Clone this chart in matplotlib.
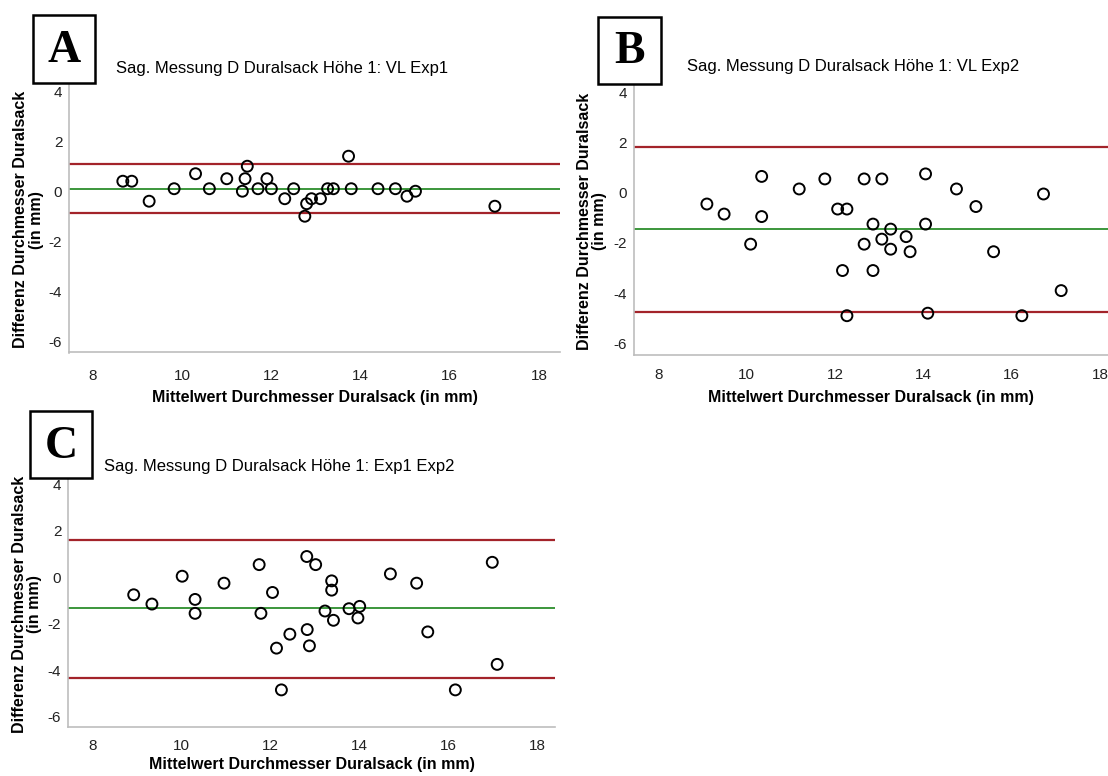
"""
Bland-Altman Plots: Sag. Messung D Duralsack Höhe 1 (VL / Exp1 / Exp2)
"""

import matplotlib
matplotlib.use('Agg')
import matplotlib.pyplot as plt
from matplotlib.patches import Rectangle

plt.rcParams['font.family'] = ['Liberation Sans', 'DejaVu Sans']
plt.rcParams['axes.unicode_minus'] = False

# ---- Daten (Mittelwert, Differenz) ----
a_mean = [8.67, 8.87, 9.26, 9.82, 10.30, 10.61, 11.00, 11.35, 11.41, 11.46,
          11.70, 11.90, 12.00, 12.30, 12.50, 12.75, 12.79, 12.90, 13.10, 13.26,
          13.39, 13.73, 13.79, 14.39, 14.78, 15.04, 15.23, 17.01]
a_diff = [0.40, 0.40, -0.40, 0.10, 0.70, 0.10, 0.50, 0.00, 0.50, 1.00,
          0.10, 0.50, 0.10, -0.30, 0.10, -1.00, -0.50, -0.30, -0.30, 0.10,
          0.10, 1.40, 0.10, 0.10, 0.10, -0.20, 0.00, -0.60]
a_bias, a_upper, a_lower = 0.10, 1.07, -0.88

b_mean = [9.10, 9.49, 10.09, 10.34, 10.34, 11.19, 11.77, 12.06, 12.27, 12.17,
          12.27, 12.66, 12.66, 12.86, 12.86, 13.06, 13.06, 13.26, 13.26, 13.61,
          13.70, 14.05, 14.05, 14.10, 14.75, 15.19, 15.59, 16.23, 16.72, 17.12]
b_diff = [-0.45, -0.85, -2.05, 0.65, -0.95, 0.15, 0.55, -0.65, -0.65, -3.10,
          -4.90, 0.55, -2.05, -1.25, -3.10, 0.55, -1.85, -1.45, -2.25, -1.75,
          -2.35, 0.75, -1.25, -4.80, 0.15, -0.55, -2.35, -4.90, -0.05, -3.90]
b_bias, b_upper, b_lower = -1.46, 1.83, -4.74

c_mean = [8.92, 9.33, 10.01, 10.30, 10.30, 10.95, 11.74, 11.78, 12.04, 12.13,
          12.24, 12.43, 12.81, 12.82, 12.87, 13.01, 13.22, 13.37, 13.37, 13.41,
          13.76, 13.96, 14.00, 14.69, 15.28, 15.53, 16.15, 16.98, 17.09]
c_diff = [-0.75, -1.15, 0.05, -0.95, -1.55, -0.25, 0.55, -1.55, -0.65, -3.05,
          -4.85, -2.45, 0.90, -2.25, -2.95, 0.55, -1.45, -0.15, -0.55, -1.85,
          -1.35, -1.75, -1.25, 0.15, -0.25, -2.35, -4.85, 0.65, -3.75]
c_bias, c_upper, c_lower = -1.34, 1.63, -4.32

titles = ['Sag. Messung D Duralsack Höhe 1: VL Exp1',
          'Sag. Messung D Duralsack Höhe 1: VL Exp2',
          'Sag. Messung D Duralsack Höhe 1: Exp1 Exp2']
letters = ['A', 'B', 'C']
x_ticks = [8, 10, 12, 14, 16, 18]
y_ticks = [-6, -4, -2, 0, 2, 4]

W, H = 1108, 776
RED = '#a3232a'
GREEN = '#3b963b'
AXIS_GREY = '#bdbdbd'


def px_rect(x0, y0, x1, y1):
    """Pixelkoordinaten (oben links = 0,0) -> Figure-Koordinaten"""
    return [x0 / W, 1 - y1 / H, (x1 - x0) / W, (y1 - y0) / H]


def draw_panel(fig, box, xlim, ylim, mean, diff, bias, upper, lower,
               ylabel_x, xlabel_y, xpad=12):
    ax = fig.add_axes(px_rect(*box))
    ax.set_xlim(*xlim)
    ax.set_ylim(*ylim)

    # Grenzen der Übereinstimmung und mittlere Differenz
    ax.axhline(upper, color=RED, lw=1.6, zorder=1)
    ax.axhline(lower, color=RED, lw=1.6, zorder=1)
    ax.axhline(bias, color=GREEN, lw=1.4, zorder=1)

    ax.scatter(mean, diff, s=62, facecolors='none', edgecolors='black',
               linewidths=1.4, zorder=3, clip_on=False)

    ax.set_xticks(x_ticks)
    ax.set_yticks(y_ticks)
    ax.tick_params(length=0, labelsize=11, colors='#222222', pad=5)
    ax.tick_params(axis='x', pad=xpad)
    for side in ['top', 'right']:
        ax.spines[side].set_visible(False)
    for side in ['left', 'bottom']:
        ax.spines[side].set_color(AXIS_GREY)
        ax.spines[side].set_linewidth(1.2)

    x0, y0, x1, y1 = box
    fig.text((x0 + x1) / 2 / W, 1 - xlabel_y / H,
             'Mittelwert Durchmesser Duralsack (in mm)',
             ha='center', va='center', fontsize=11.5, fontweight='bold')
    fig.text(ylabel_x / W, 1 - ((y0 + y1) / 2 + 4) / H,
             'Differenz Durchmesser Duralsack\n(in mm)',
             ha='center', va='center', rotation=90, fontsize=11.5,
             fontweight='bold', linespacing=1.05, multialignment='center')
    return ax


def draw_label_box(fig, box, letter, title, title_x, title_y):
    x0, y0, x1, y1 = box
    rect = Rectangle((x0 / W, 1 - y1 / H), (x1 - x0) / W, (y1 - y0) / H,
                     transform=fig.transFigure, facecolor='white',
                     edgecolor='black', linewidth=1.8, zorder=5)
    fig.add_artist(rect)
    fig.text((x0 + x1) / 2 / W, 1 - ((y0 + y1) / 2 + 2) / H, letter,
             ha='center', va='center', fontsize=33, fontweight='bold',
             family='Liberation Serif', zorder=6)
    fig.text(title_x / W, 1 - title_y / H, title, ha='left', va='center',
             fontsize=12, zorder=6)


def main():
    fig = plt.figure(figsize=(W / 100, H / 100), dpi=100)

    draw_panel(fig, (69.3, 78.7, 560, 352.5), (7.47, 18.47), (-6.45, 4.5),
               a_mean, a_diff, a_bias, a_upper, a_lower, 28.5, 398)
    draw_panel(fig, (634, 79.8, 1108, 354.6), (7.45, 18.18), (-6.45, 4.5),
               b_mean, b_diff, b_bias, b_upper, b_lower, 592, 398, xpad=10)
    draw_panel(fig, (68.3, 473, 555, 727), (7.45, 18.39), (-6.45, 4.5),
               c_mean, c_diff, c_bias, c_upper, c_lower, 27, 765, xpad=9)

    draw_label_box(fig, (32.9, 15.4, 94.6, 83.2), letters[0], titles[0], 116, 68)
    draw_label_box(fig, (598.4, 16.8, 661.4, 83.9), letters[1], titles[1], 687, 66.5)
    draw_label_box(fig, (29.6, 411.4, 92.1, 478.2), letters[2], titles[2], 104, 466)

    fig.savefig('out.png', dpi=100)
    plt.close(fig)


if __name__ == '__main__':
    main()
